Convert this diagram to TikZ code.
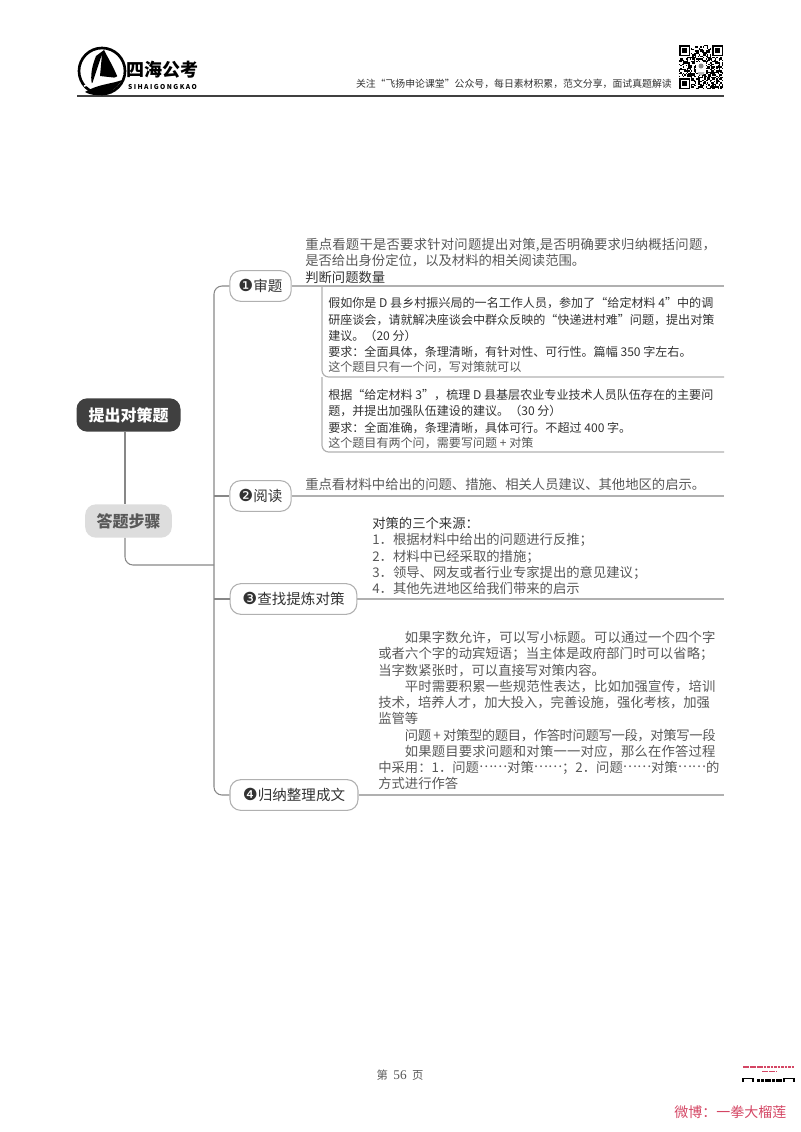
\documentclass[tikz,border=0pt]{standalone}
\usepackage{fontspec}
\setmainfont{Noto Sans CJK SC}
\newfontfamily\numfont{DejaVu Sans}
\newfontfamily\serifnum{Liberation Serif}
\usepackage{xcolor}
\usetikzlibrary{positioning,calc}
\definecolor{inkdark}{RGB}{64,64,64}
\definecolor{inkgrey}{RGB}{88,88,88}
\definecolor{inktext}{RGB}{50,50,50}
\definecolor{stepgrey}{RGB}{221,221,221}
\definecolor{linegrey}{RGB}{176,176,176}
\definecolor{trunkgrey}{RGB}{135,135,135}
\definecolor{weibored}{RGB}{212,70,100}
\newcommand{\numdot}[1]{{\numfont\fontsize{12.5}{14}\selectfont #1}}
\newcommand{\spread}[2]{{\addfontfeature{LetterSpace=#1}#2}}
\newcommand{\hint}[1]{{\color{inkgrey}#1}}
\newcommand{\middots}{\raisebox{0.36em}{……}}
\begin{document}
\begin{tikzpicture}[
  x=0.75pt,y=-0.75pt,
  rootbox/.style={rectangle,rounded corners=8pt,fill=inkdark,text=white,
    minimum width=78pt,minimum height=25pt,inner sep=0pt,font=\fontsize{12}{14}\selectfont\bfseries},
  stepbox/.style={rectangle,rounded corners=8pt,fill=stepgrey,text=inkgrey,
    minimum width=65pt,minimum height=25pt,inner sep=0pt,font=\fontsize{12}{14}\selectfont\bfseries},
  topic/.style={rectangle,rounded corners=8pt,draw=linegrey,fill=white,thick,text=inktext,
    minimum height=23pt,inner sep=3pt,font=\fontsize{10.9}{14}\selectfont},
  note/.style={anchor=north west,inner sep=0pt,align=left,text=inkgrey,
    font=\fontsize{10}{12.2}\selectfont},
  quest/.style={anchor=north west,inner sep=0pt,align=left,text=inktext,
    font=\fontsize{9.05}{12.2}\selectfont},
  link/.style={draw=trunkgrey,line width=0.8pt},
  rule/.style={draw=linegrey,line width=0.9pt}
]
\useasboundingbox (0,0) rectangle (800,1132);

\node[rootbox] (root) at (128.5,415) {提出对策题};
\node[stepbox] (steps) at (128.5,521) {答题步骤};
\node[topic,minimum width=46pt] (t1) at (260.5,286) {\numdot{❶}审题};
\node[topic,minimum width=46pt] (t2) at (260.5,496) {\numdot{❷}阅读};
\node[topic,minimum width=95pt] (t3) at (293.5,599) {\numdot{❸}查找提炼对策};
\node[topic,minimum width=96pt] (t4) at (294,795) {\numdot{❹}归纳整理成文};

\coordinate (stem) at (125,470);
\coordinate (trunktop) at (214,286);
\coordinate (trunkmid) at (214,565);
\coordinate (trunkbot) at (214,795);
\coordinate (end1) at (724,286);
\coordinate (end2) at (724,496);
\coordinate (end3) at (724,599);
\coordinate (end4) at (724,795);
\coordinate (qtop) at (322,286);
\coordinate (q1) at (322,377);
\coordinate (q1end) at (724,377);
\coordinate (q2) at (322,452);
\coordinate (q2end) at (724,452);

\draw[link] (stem|-root.south) -- (stem|-steps.north);
\draw[link,rounded corners=6pt] (stem|-steps.south) |- (trunkmid);
\draw[link,rounded corners=6pt] (t1.west) -- (trunktop) -- (trunkbot) -- (t4.west);
\draw[link] (trunktop|-t2.west) -- (t2.west);
\draw[link] (trunktop|-t3.west) -- (t3.west);
\draw[rule] (t1.east) -- (end1);
\draw[rule] (t2.east) -- (end2);
\draw[rule] (t3.east) -- (end3);
\draw[rule] (t4.east) -- (end4);
\draw[rule,rounded corners=5pt] (qtop) -- (q1) -- (q1end);
\draw[rule,rounded corners=5pt] (q1) -- (q2) -- (q2end);

\node[note] (n1) at (305,238) {\spread{1.75}{重点看题干是否要求针对问题提出对策,是否明确要求归纳概括问题，}\\是否给出身份定位，以及材料的相关阅读范围。\\\textcolor{inktext}{判断问题数量}};
\node[quest] (q1text) at (328,297.5) {假如你是 D 县乡村振兴局的一名工作人员，参加了“给定材料 4”中的调\\研座谈会，请就解决座谈会中群众反映的“快递进村难”问题，提出对策\\建议。（20 分）\\要求：全面具体，条理清晰，有针对性、可行性。篇幅 350 字左右。\\[-1.5pt]\hint{这个题目只有一个问，写对策就可以}};
\node[quest] (q2text) at (328,389) {根据“给定材料 3”，梳理 D 县基层农业专业技术人员队伍存在的主要问\\题，并提出加强队伍建设的建议。（30 分）\\要求：全面准确，条理清晰，具体可行。不超过 400 字。\\[-0.8pt]\hint{这个题目有两个问，需要写问题 + 对策}};
\node[note] (n2) at (305,477.5) {重点看材料中给出的问题、措施、相关人员建议、其他地区的启示。};
\node[note] (n3) at (372,517) {\textcolor{inktext}{对策的三个来源：}\\1．根据材料中给出的问题进行反推；\\2．材料中已经采取的措施；\\3．领导、网友或者行业专家提出的意见建议；\\4．其他先进地区给我们带来的启示};
\node[note] (n4) at (378,631) {\hspace{20pt}\spread{1.3}{如果字数允许，可以写小标题。可以通过一个四个字}\\\spread{0.6}{或者六个字的动宾短语；当主体是政府部门时可以省略；}\\当字数紧张时，可以直接写对策内容。\\\hspace{20pt}\spread{1.3}{平时需要积累一些规范性表达，比如加强宣传，培训}\\\spread{-0.5}{技术，培养人才，加大投入，完善设施，强化考核，加强}\\监管等\\\hspace{20pt}\spread{-2.8}{问题\,+\,对策型的题目，作答时问题写一段，对策写一段}\\\hspace{20pt}\spread{1.3}{如果题目要求问题和对策一一对应，那么在作答过程}\\中采用：1．问题\middots 对策\middots；2．问题\middots 对策\middots 的\\方式进行作答};

\node[inner sep=0pt,font=\fontsize{7.4}{9}\selectfont,text=inktext,anchor=east] (slogan) at (672,84) {关注“飞扬申论课堂”公众号，每日素材积累，范文分享，面试真题解读};
\coordinate (headl) at (77,96);
\coordinate (headr) at (724,96);
\draw[draw=inkdark,line width=1pt] (headl) -- (headr);

\draw[line width=2pt] (102,71) circle (23);
\fill (85,92) .. controls (95,98) and (112,96) .. (122,80) .. controls (112,84) and (98,84) .. (85,92) -- cycle;
\fill (92,84) -- (102,54) -- (100,76) -- (118,78) .. controls (112,64) and (108,58) .. (104,50) -- (96,56) .. controls (92,66) and (90,76) .. (92,84) -- cycle;
\draw[white,line width=1.2pt] (84,86) .. controls (96,82) and (108,84) .. (123,74);
\node[inner sep=0pt,font=\fontsize{13.5}{15}\selectfont\bfseries] (brand) at (162.5,70) {四海公考};
\node[inner sep=0pt,below=4pt of brand,font=\fontsize{5}{6}\selectfont\bfseries\addfontfeature{LetterSpace=22}] (brandlat) {SIHAIGONGKAO};

\begin{scope}[shift={(679,45)}]
\pgfmathsetseed{56}
\foreach \i in {0,...,32}
  \foreach \j in {0,...,32}{
    \pgfmathparse{random(0,1)}
    \ifnum\pgfmathresult=1 \fill (\i*1.33,\j*1.33) rectangle ++(1.33,1.33); \fi
  }
\foreach \a/\b in {0/0,33/0,0/33}{
  \fill[white] (\a-1,\b-1) rectangle ++(13,13);
  \fill (\a,\b) rectangle ++(11,11);
  \fill[white] (\a+1.5,\b+1.5) rectangle ++(8,8);
  \fill (\a+3.2,\b+3.2) rectangle ++(4.6,4.6);
}
\fill[white] (17,17) rectangle ++(10,10);
\fill[trunkgrey] (22,21) circle (2.5);
\fill[trunkgrey!60] (18.5,27) arc (180:0:3.5);
\end{scope}

\node[inner sep=0pt,text=inkgrey,font=\fontsize{8.5}{10}\selectfont] (page) at (400,1075) {第\hspace{4pt}{\serifnum\fontsize{10}{10}\selectfont 56}\hspace{4pt}页};
\node[inner sep=0pt,text=weibored,font=\fontsize{10.5}{12}\selectfont,anchor=west] (weibo) at (674,1112) {微博：一拳大榴莲};
\draw[weibored,line width=1pt,dash pattern=on 2pt off 0.6pt] (743,1067) -- (794,1067);
\draw[weibored,line width=0.9pt,dash pattern=on 2pt off 0.6pt] (762,1071.5) -- (776,1071.5);
\draw[line width=0.8pt] (743,1082) |- (753,1078.5) -- (753,1082);
\draw[line width=0.8pt] (784,1082) |- (794,1078.5) -- (794,1082);
\foreach \a in {757,761,765,768,772,776,779}
  \fill (\a,1078.5) rectangle ++(2.5,3);
\end{tikzpicture}
\end{document}
